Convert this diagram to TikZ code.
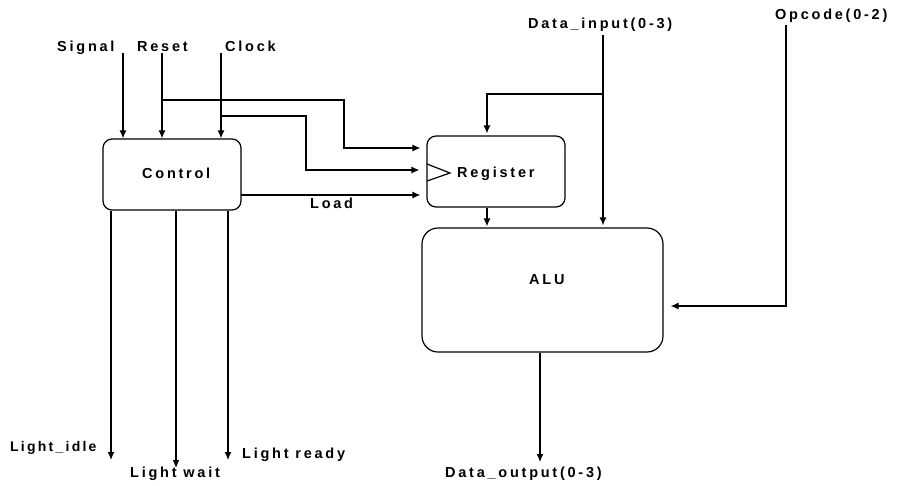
\documentclass[tikz,border=0pt]{standalone}
\usepackage{fontspec}
\setmainfont{Liberation Sans}[LetterSpace=19]
\usetikzlibrary{arrows.meta}
\begin{document}
\begin{tikzpicture}[x=1pt,y=-1pt,
  lbl/.style={font=\bfseries\fontsize{14.5}{16}\selectfont, inner sep=0pt, anchor=base west},
  blk/.style={draw, line width=1.2pt, rounded corners=9pt, inner sep=0pt},
  wire/.style={line width=1.2pt},
  arr/.style={wire, -{Latex[length=8pt,width=7pt]}}]
\useasboundingbox (0,0) rectangle (899,485);
% blocks
\node[blk, minimum width=138pt, minimum height=71pt] (ctrl) at (172,174.5) {};
\node[lbl] (ctrlT) at (142,178) {Control};
\node[blk, minimum width=138pt, minimum height=71pt] (reg) at (496,171.5) {};
\node[lbl] (regT) at (457,177) {Register};
\node[blk, rounded corners=16pt, minimum width=241pt, minimum height=124pt] (alu) at (542.5,290) {};
\node[lbl] (aluT) at (529,284) {ALU};
% labels
\node[lbl] (sig) at (57,51) {Signal};
\node[lbl] (rst) at (137,51) {Reset};
\node[lbl] (clk) at (225,51) {Clock};
\node[lbl] (din) at (528,28) {Data\_input(0-3)};
\node[lbl] (opc) at (775,19) {Opcode(0-2)};
\node[lbl] (load) at (310,208) {Load};
\node[lbl, font=\bfseries\fontsize{14}{16}\selectfont\addfontfeature{LetterSpace=16}] (lidle) at (10,451) {Light\_idle};
\node[lbl] (lwait) at (130,477) {Light wait};
\node[lbl] (lready) at (242,458) {Light ready};
\node[lbl] (dout) at (445,477) {Data\_output(0-3)};
% inputs to control
\coordinate (sigS) at (123,53);
\coordinate (rstS) at (162,53);
\coordinate (clkS) at (221,53);
\draw[arr] (sigS) -- (sigS |- ctrl.north);
\draw[arr] (rstS) -- (rstS |- ctrl.north);
\draw[arr] (clkS) -- (clkS |- ctrl.north);
% reset branch to register
\coordinate (rstB) at (162,100);
\coordinate (rbend) at (344,148);
\draw[arr, shorten >=6pt] (rstB) -| (rbend) -- (rbend -| reg.west);
% clock branch to register
\coordinate (clkB) at (221,116);
\coordinate (cbend) at (306,170);
\draw[arr, shorten >=7pt] (clkB) -| (cbend) -- (cbend -| reg.west);
\draw[wire] (427,164) -- (450,173) -- (427,181);
% load
\coordinate (ldS) at (241,195);
\draw[arr, shorten >=6pt] (ldS) -- (ldS -| reg.west);
% data input
\coordinate (dinS) at (603,35);
\coordinate (dinB) at (603,94);
\coordinate (rin) at (487,94);
\draw[arr, shorten >=2pt] (dinS) -- (dinS |- alu.north);
\draw[arr, shorten >=2pt] (dinB) -- (rin) -- (rin |- reg.north);
\draw[arr, shorten >=1pt] (rin |- reg.south) -- (rin |- alu.north);
% opcode
\coordinate (opS) at (786,25);
\coordinate (opB) at (786,306);
\draw[arr, shorten >=7pt] (opS) -- (opB) -- (opB -| alu.east);
% ALU output
\coordinate (doutE) at (540,462);
\draw[arr] (doutE |- alu.south) -- (doutE);
% control outputs
\coordinate (li) at (111,460);
\coordinate (lw) at (176,468);
\coordinate (lr) at (228,460);
\draw[arr] (li |- ctrl.south) -- (li);
\draw[arr] (lw |- ctrl.south) -- (lw);
\draw[arr] (lr |- ctrl.south) -- (lr);
\end{tikzpicture}
\end{document}
